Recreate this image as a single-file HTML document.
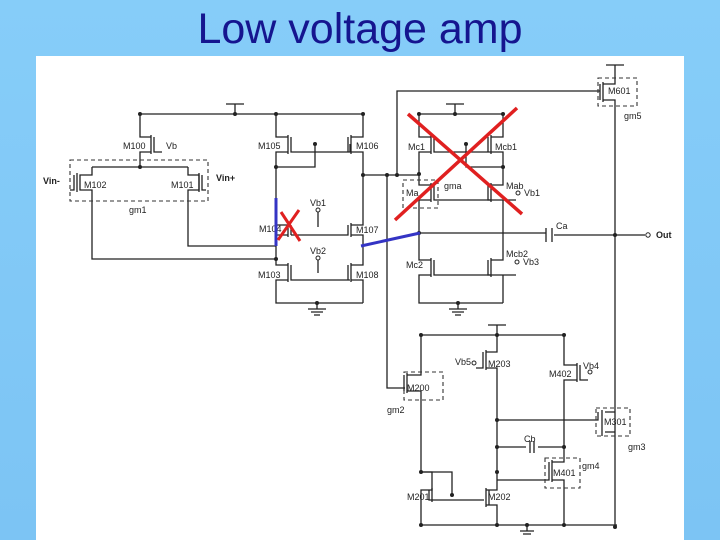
<!DOCTYPE html>
<html><head><style>
html,body{margin:0;padding:0;}
body{width:720px;height:540px;background:linear-gradient(#86cdf9,#7cc4f4);position:relative;overflow:hidden;font-family:"Liberation Sans",sans-serif;}
h1{position:absolute;top:5px;left:0;width:720px;text-align:center;margin:0;font-weight:normal;font-size:43px;color:#15158f;}
svg{position:absolute;left:0;top:0;}
text{font-family:"Liberation Sans",sans-serif;font-size:9px;fill:#222;}
</style></head><body>
<h1>Low voltage amp</h1>
<svg width="720" height="540" viewBox="0 0 720 540">
<rect x="36" y="56" width="648" height="484" fill="#fff"/>
<g stroke="#222" stroke-width="1.3" fill="none">
<path d="M140 114H363M226 104H244M235 104V114"/>
<path d="M140 114V137H151V152H140V167M151 135V154M154 137V152H162"/>
<path d="M92 167H188M92 167V175H80V190H92V259H276M77 173V192M74 175V190H70"/>
<path d="M188 167V175H199V190H188V246H276"/>
<path d="M199 173V192M202 175V190H206"/>
<path d="M276 114V137H288V152H276V225H288V235H276V265H288V280H276V303H363M288 135V154M291 137V152H350V144M288 223V237M291 225V235M288 263V282M291 265V280H350"/>
<path d="M315 144V167H276"/>
<path d="M363 114V137H351V152H363V225H351V235H363V265H351V280H363V303M351 135V154M348 137V152M351 223V237M348 225V235H291M351 263V282M348 265V280"/>
<path d="M318 212V227M318 260V273M308 309H326M311 312H323M314 315H320M317 303V309"/>
<path d="M363 175H419M387 175V388H405M397 174V91H600"/>
<path d="M606 65H624M615 65V84H603V100H615V527M603 82V102M600 84V100"/>
<path d="M446 104H464M455 104V114M419 114H503"/>
<path d="M419 114V137H431V152H419V185H431V200H419V260H431V275H419V303H503M431 135V154M434 137V152H491M431 183V202M434 185V200H491M431 258V277M434 260V275H491"/>
<path d="M503 114V137H491V152H503V185H491V200H503V260H491V275H503V303M491 135V154M488 137V152M491 183V202M488 185V200H516M491 258V277M488 260V275H516"/>
<path d="M466 144V167H503M419 233H546M554 235H645M546 228V242M552 228V242M458 303V309M449 309H467M452 312H464M455 315H461"/>
<path d="M421 335H564M488 325H506M497 325V335"/>
<path d="M421 335V375H407V391H421V472H432V490H421V525H617M407 373V393M404 375V391"/>
<path d="M421 472H452V495M432 488V502M429 490V500H484"/>
<path d="M497 335V352H486V368H497V490H486V505H497V525M486 350V370M483 352V368H476M486 488V507M489 490V505"/>
<path d="M564 335V365H577V380H564V462H552V480H564V525M577 363V382M580 365V380H588M552 460V482M549 462V480H497"/>
<path d="M497 420H598V412M602 410V436M605 412H615M605 432H615M497 447H526M530 441V453M534 441V453M538 447H564M520 531H534M523 534H531M527 525V531"/>
</g>
<g fill="#222">
<circle cx="140" cy="114" r="2"/><circle cx="235" cy="114" r="2"/><circle cx="276" cy="114" r="2"/><circle cx="363" cy="114" r="2"/>
<circle cx="140" cy="167" r="2"/><circle cx="315" cy="144" r="2"/><circle cx="276" cy="167" r="2"/><circle cx="363" cy="175" r="2"/><circle cx="387" cy="175" r="2"/><circle cx="397" cy="175" r="2"/>
<circle cx="276" cy="259" r="2"/><circle cx="317" cy="303" r="2"/><circle cx="419" cy="174" r="2"/><circle cx="419" cy="114" r="2"/><circle cx="503" cy="114" r="2"/><circle cx="455" cy="114" r="2"/>
<circle cx="466" cy="144" r="2"/><circle cx="503" cy="167" r="2"/><circle cx="419" cy="233" r="2"/><circle cx="615" cy="235" r="2"/><circle cx="458" cy="303" r="2"/>
<circle cx="421" cy="335" r="2"/><circle cx="497" cy="335" r="2"/><circle cx="564" cy="335" r="2"/><circle cx="497" cy="420" r="2"/><circle cx="497" cy="447" r="2"/><circle cx="564" cy="447" r="2"/><circle cx="497" cy="472" r="2"/><circle cx="421" cy="472" r="2"/><circle cx="452" cy="495" r="2"/>
<circle cx="421" cy="525" r="2"/><circle cx="497" cy="525" r="2"/><circle cx="527" cy="525" r="2"/><circle cx="564" cy="525" r="2"/><circle cx="615" cy="527" r="2"/>
</g>
<g fill="#fff" stroke="#222" stroke-width="1"><circle cx="318" cy="210" r="2"/><circle cx="318" cy="258" r="2"/><circle cx="518" cy="193" r="2"/><circle cx="517" cy="262" r="2"/><circle cx="648" cy="235" r="2.2"/><circle cx="474" cy="363" r="2"/><circle cx="590" cy="372" r="2"/></g>
<g stroke="#333" stroke-width="1.1" fill="none" stroke-dasharray="4,3">
<rect x="70" y="160" width="138" height="41"/><rect x="598" y="78" width="39" height="28"/><rect x="403" y="180" width="35" height="28"/>
<rect x="404" y="372" width="39" height="28"/><rect x="596" y="408" width="34" height="28"/><rect x="545" y="458" width="35" height="30"/>
</g>
<g>
<text x="123" y="149">M100</text><text x="166" y="149">Vb</text><text x="84" y="188">M102</text><text x="171" y="188">M101</text>
<text x="43" y="184" font-weight="bold" font-size="10">Vin-</text><text x="216" y="181" font-weight="bold" font-size="10">Vin+</text><text x="129" y="213" font-size="11">gm1</text>
<text x="258" y="149">M105</text><text x="356" y="149">M106</text><text x="310" y="206">Vb1</text><text x="259" y="232">M104</text><text x="356" y="233">M107</text>
<text x="310" y="254">Vb2</text><text x="258" y="278">M103</text><text x="356" y="278">M108</text>
<text x="608" y="94">M601</text><text x="624" y="119" font-size="11">gm5</text>
<text x="408" y="150">Mc1</text><text x="495" y="150">Mcb1</text><text x="444" y="189" font-size="10">gma</text><text x="406" y="196">Ma</text><text x="506" y="189">Mab</text><text x="524" y="196">Vb1</text>
<text x="556" y="229">Ca</text><text x="656" y="238" font-weight="bold">Out</text><text x="406" y="268">Mc2</text><text x="506" y="257">Mcb2</text><text x="523" y="265">Vb3</text>
<text x="455" y="365">Vb5</text><text x="488" y="367">M203</text><text x="549" y="377">M402</text><text x="583" y="369">Vb4</text>
<text x="407" y="391">M200</text><text x="387" y="413" font-size="11">gm2</text><text x="604" y="425">M301</text><text x="628" y="450" font-size="11">gm3</text>
<text x="524" y="442">Cb</text><text x="553" y="476">M401</text><text x="582" y="469" font-size="11">gm4</text><text x="407" y="500">M201</text><text x="488" y="500">M202</text>
</g>
<g stroke-linecap="butt">
<path d="M276 198V246M361 246L420 233" stroke="#3434c4" stroke-width="3"/>
<path d="M281 212L300 241M299 210L278 240" stroke="#e02020" stroke-width="3"/>
<path d="M408 114L522 214M517 108L395 220" stroke="#e02020" stroke-width="3.5"/>
</g>
</svg>
</body></html>
